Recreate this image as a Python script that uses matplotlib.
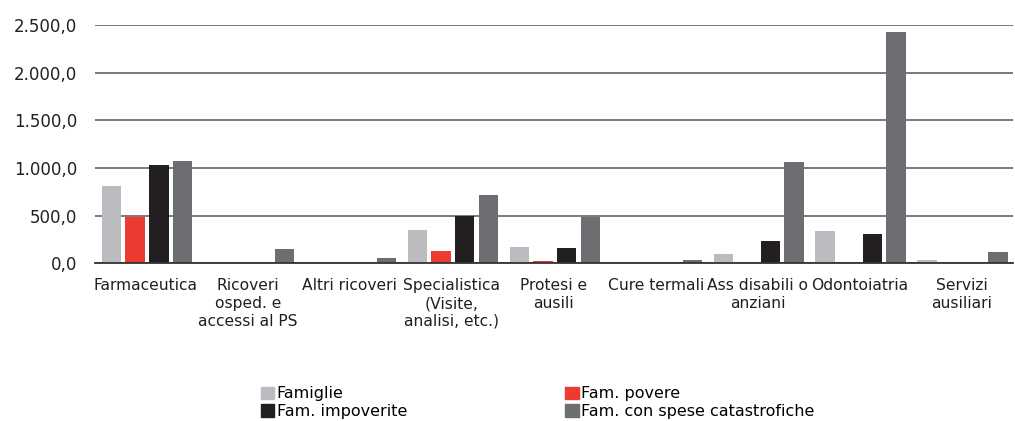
import numpy as np
import matplotlib.pyplot as plt
from matplotlib.patches import Patch
from matplotlib.ticker import FuncFormatter

# spesa sanitaria per tipologia di famiglia
categorie = ["Farmaceutica", "Ricoveri\nosped. e\naccessi al PS", "Altri ricoveri",
             "Specialistica\n(Visite,\nanalisi, etc.)", "Protesi e\nausili", "Cure termali",
             "Ass disabili o\nanziani", "Odontoiatria", "Servizi\nausiliari"]
famiglie = [809, 5, 0, 347, 168, 0, 95, 336, 31]
fam_povere = [483, 0, 0, 126, 21, 0, 10, 10, 0]
fam_impoverite = [1029, 5, 5, 500, 158, 0, 231, 305, 5]
fam_catastrofiche = [1071, 147, 52, 714, 483, 31, 1061, 2426, 115]

serie = ["Famiglie", "Fam. povere", "Fam. impoverite", "Fam. con spese catastrofiche"]
colori = ["#BBBCC0", "#EE3B32", "#231F20", "#6D6E71"]
valori = [famiglie, fam_povere, fam_impoverite, fam_catastrofiche]

fig = plt.figure(figsize=(10.15, 4.21), dpi=100)
ax = fig.add_axes([0.0936, 0.375, 0.904, 0.565])

x = np.arange(len(categorie))
w = 0.19
offsets = [-1.5, -0.5, 0.5, 1.5]
for vals, col, off in zip(valori, colori, offsets):
    ax.bar(x + off * 0.232 + 0.01, vals, width=w, color=col, zorder=3)

ax.set_ylim(0, 2500)
ax.set_xlim(-0.5, len(categorie) - 0.5)
ax.set_yticks(np.arange(0, 2501, 500))
ax.yaxis.set_major_formatter(FuncFormatter(
    lambda v, p: f"{v:,.1f}".replace(",", "X").replace(".", ",").replace("X", ".")))
ax.grid(axis="y", color="#6f6f6f", linewidth=1.3, zorder=0)
for s in ["top", "right", "left"]:
    ax.spines[s].set_visible(False)
ax.spines["bottom"].set_color("#333333")
ax.spines["bottom"].set_linewidth(1.3)
ax.spines["bottom"].set_zorder(4)
ax.set_xticks(x)
ax.set_xticklabels(categorie, fontsize=11.2, va="top", linespacing=1.22)
ax.tick_params(axis="x", length=0, labelsize=11.2, colors="#231F20", pad=11)
ax.tick_params(axis="y", length=0, labelsize=12, colors="#231F20", pad=13)

# legenda: ordine riga per riga
ordine = [0, 2, 1, 3]
handles = [Patch(color=colori[i]) for i in ordine]
labels = [serie[i] for i in ordine]
fig.legend(handles, labels, ncol=2, loc="upper left", bbox_to_anchor=(0.257, 0.082),
           frameon=False, fontsize=11.5, handlelength=0.85, handleheight=0.85,
           handletextpad=0.15, columnspacing=9.9, labelspacing=0.17,
           borderpad=0, borderaxespad=0)

fig.savefig("out.png", dpi=100)
